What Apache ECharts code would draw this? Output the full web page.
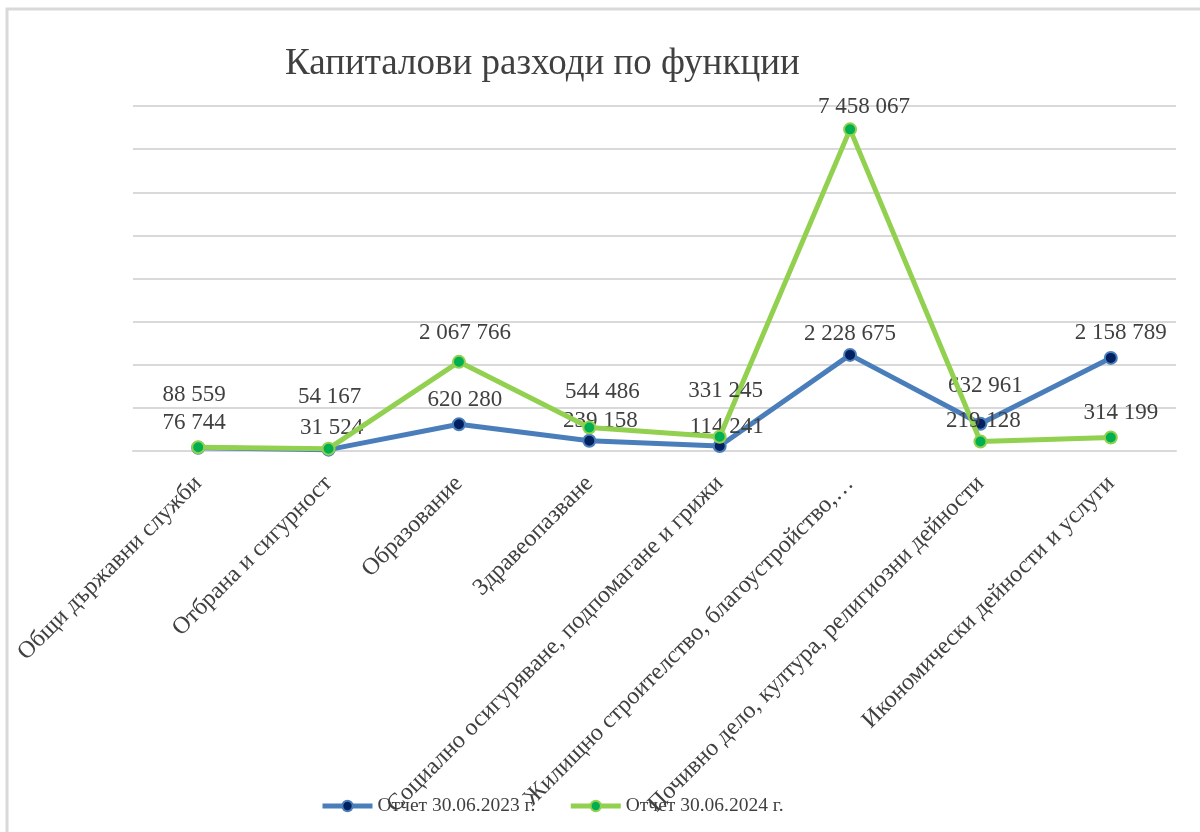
<!DOCTYPE html>
<html>
<head>
<meta charset="utf-8">
<script src="https://cdn.jsdelivr.net/npm/echarts@6/dist/echarts.min.js"></script>
<style>html,body{margin:0;padding:0;background:#fff}#c{width:1200px;height:832px}</style>
</head>
<body>
<div id="c"></div>
<script>
const categories = [
  'Общи държавни служби',
  'Отбрана и сигурност',
  'Образование',
  'Здравеопазване',
  'Социално осигуряване, подпомагане и грижи',
  'Жилищно строителство, благоустройство,…',
  'Почивно дело, култура, религиозни дейности',
  'Икономически дейности и услуги'
];
const seriesNames = ['Отчет 30.06.2023 г.', 'Отчет 30.06.2024 г.'];
const values2023 = [76744, 31524, 620280, 239158, 114241, 2228675, 632961, 2158789];
const values2024 = [88559, 54167, 2067766, 544486, 331245, 7458067, 219128, 314199];

// label placement (manual offsets, as in the source chart)
const offsets2023 = [[-4,-25],[3,-22],[6,-24],[11,-20],[7,-19],[0,-21],[5,-38],[10,-25]];
const offsets2024 = [[-4,-52],[1,-52],[6,-29],[13,-36],[6,-46],[14,-22],[3,-21],[10,-24]];

const serif = '"Liberation Serif", "DejaVu Serif", serif';
const fmt = v => String(v).replace(/\B(?=(\d{3})+(?!\d))/g, ' ');

function buildData(vals, offs) {
  return vals.map((v, i) => ({ value: v, label: { offset: offs[i] } }));
}

const chart = echarts.init(document.getElementById('c'));
chart.setOption({
  animation: false,
  backgroundColor: '#fff',
  graphic: [{
    type: 'rect', silent: true, z: -10,
    shape: { x: 7, y: 9, width: 1200, height: 830 },
    style: { fill: 'none', stroke: '#d9d9d9', lineWidth: 3 }
  }],
  title: {
    text: 'Капиталови разходи по функции',
    left: 280, top: 41,
    textStyle: { fontFamily: serif, fontSize: 37, fontWeight: 'normal', color: '#404040' }
  },
  legend: {
    left: 315, top: 791,
    itemWidth: 50, itemHeight: 13, itemGap: 33,
    lineStyle: { width: 5 },
    textStyle: { fontFamily: serif, fontSize: 19.5, color: '#404040' },
    data: seriesNames
  },
  grid: { left: 133, right: 24, top: 106, bottom: 381 },
  xAxis: {
    type: 'category',
    data: categories,
    boundaryGap: true,
    axisLine: { lineStyle: { color: '#d9d9d9', width: 2 } },
    axisTick: { show: false },
    axisLabel: {
      interval: 0, rotate: 45, margin: 29,
      fontFamily: serif, fontSize: 24, color: '#404040'
    }
  },
  yAxis: {
    type: 'value',
    min: 0, max: 8000000, interval: 1000000,
    axisLabel: { show: false },
    axisLine: { show: false },
    axisTick: { show: false },
    splitLine: { lineStyle: { color: '#d9d9d9', width: 2 } }
  },
  series: [
    {
      name: seriesNames[0],
      type: 'line',
      data: buildData(values2023, offsets2023),
      symbol: 'circle', symbolSize: 12,
      lineStyle: { color: '#4a7ebb', width: 5 },
      itemStyle: { color: '#002060', borderColor: '#4a7ebb', borderWidth: 2 },
      label: {
        show: true, position: 'inside',
        formatter: p => fmt(p.value),
        fontFamily: serif, fontSize: 23, color: '#404040'
      },
      z: 2
    },
    {
      name: seriesNames[1],
      type: 'line',
      data: buildData(values2024, offsets2024),
      symbol: 'circle', symbolSize: 12,
      lineStyle: { color: '#92d050', width: 5 },
      itemStyle: { color: '#00b050', borderColor: '#92d050', borderWidth: 2 },
      label: {
        show: true, position: 'inside',
        formatter: p => fmt(p.value),
        fontFamily: serif, fontSize: 23, color: '#404040'
      },
      z: 3
    }
  ]
});
</script>
</body>
</html>
